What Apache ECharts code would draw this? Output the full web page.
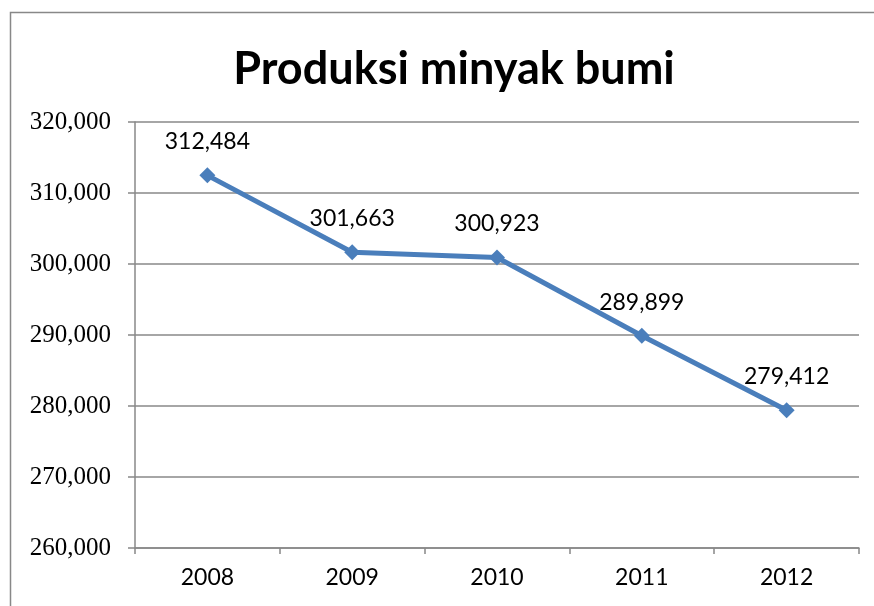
<!DOCTYPE html>
<html>
<head>
<meta charset="utf-8">
<script src="https://cdn.jsdelivr.net/npm/echarts@6/dist/echarts.min.js"></script>
<style>
  html, body { margin: 0; padding: 0; background: #fff; overflow: hidden; }
  #main { width: 874px; height: 606px; }
</style>
</head>
<body>
<div id="main"></div>
<script>
const years = ["2008", "2009", "2010", "2011", "2012"];
const produksi = [312484, 301663, 300923, 289899, 279412];

const chart = echarts.init(document.getElementById("main"));

const fmt = (v) => v.toLocaleString("en-US");

const option = {
  backgroundColor: "#fff",
  animation: false,
  title: {
    text: "Produksi minyak bumi",
    left: 449,
    top: 42,
    textAlign: "center",
    textStyle: {
      fontFamily: "Lato",
      fontWeight: "bold",
      fontSize: 45,
      color: "#000",
    },
  },
  graphic: [
    {
      // chart frame, only top and left edges are inside the picture
      type: "polyline",
      shape: { points: [[10.5, 700], [10.5, 12.5], [1000, 12.5]] },
      style: { fill: "none", stroke: "#888", lineWidth: 1.5 },
      silent: true,
    },
  ],
  grid: {
    left: 135,
    right: 15,
    top: 122,
    bottom: 58,
  },
  xAxis: {
    type: "category",
    data: years,
    boundaryGap: true,
    axisLine: { lineStyle: { color: "#888", width: 1.5 } },
    axisTick: {
      show: true,
      alignWithLabel: false,
      length: 6,
      lineStyle: { color: "#888", width: 1.5 },
    },
    axisLabel: {
      color: "#000",
      fontFamily: "Lato",
      fontSize: 23,
      margin: 18,
    },
  },
  yAxis: {
    type: "value",
    min: 260000,
    max: 320000,
    interval: 10000,
    axisLine: { show: true, lineStyle: { color: "#888", width: 1.5 } },
    axisTick: { show: true, length: 7, lineStyle: { color: "#888", width: 1.5 } },
    splitLine: { lineStyle: { color: "#888", width: 1.5 } },
    axisLabel: {
      color: "#000",
      fontFamily: "Liberation Serif",
      fontSize: 25,
      margin: 24,
      formatter: (v) => fmt(v),
    },
  },
  series: [
    {
      type: "line",
      data: produksi,
      symbol: "diamond",
      symbolSize: 16,
      lineStyle: { color: "#4a7ebb", width: 5 },
      itemStyle: { color: "#4a7ebb" },
      label: {
        show: true,
        position: "top",
        distance: 14,
        color: "#000",
        fontFamily: "Lato",
        fontSize: 23,
        formatter: (p) => fmt(p.value),
      },
    },
  ],
};

chart.setOption(option);
</script>
</body>
</html>
